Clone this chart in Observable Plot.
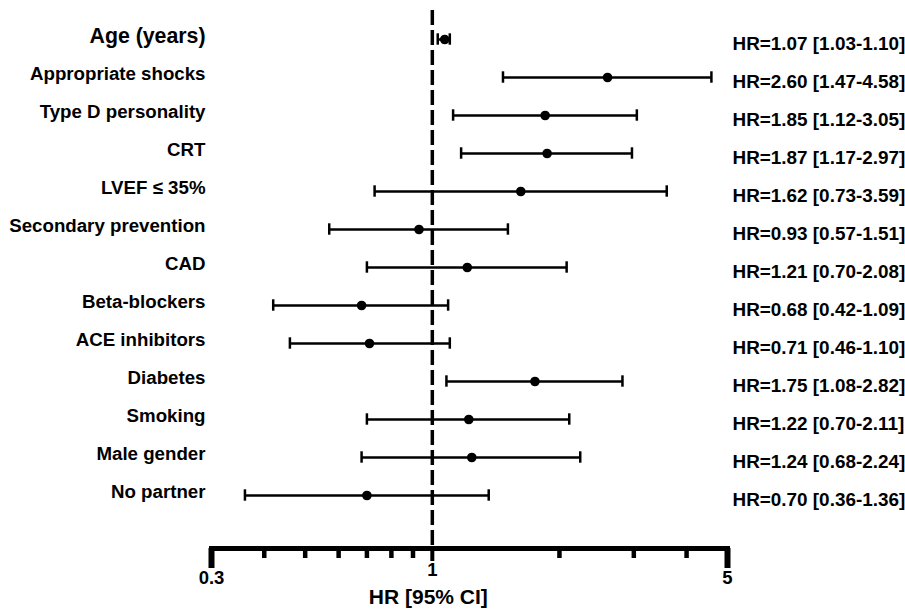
<!DOCTYPE html>
<html>
<head>
<meta charset="utf-8">
<script src="https://cdn.jsdelivr.net/npm/d3@7"></script>
<script src="https://cdn.jsdelivr.net/npm/@observablehq/plot@0.6"></script>
<style>
  html, body { margin: 0; padding: 0; background: #fff; }
  #chart svg { display: block; }
</style>
</head>
<body>
<div id="chart"></div>
<script>
const labels = ["Age (years)", "Appropriate shocks", "Type D personality", "CRT", "LVEF \u2264 35%", "Secondary prevention", "CAD", "Beta-blockers", "ACE inhibitors", "Diabetes", "Smoking", "Male gender", "No partner"];
const hr = [1.07, 2.60, 1.85, 1.87, 1.62, 0.93, 1.21, 0.68, 0.71, 1.75, 1.22, 1.24, 0.70];
const lo = [1.03, 1.47, 1.12, 1.17, 0.73, 0.57, 0.70, 0.42, 0.46, 1.08, 0.70, 0.68, 0.36];
const hi = [1.10, 4.58, 3.05, 2.97, 3.59, 1.51, 2.08, 1.09, 1.10, 2.82, 2.11, 2.24, 1.36];
const endTicks = [0.3, 5];
const midTicks = [1];
const minorTicks = [0.4, 0.5, 0.6, 0.7, 0.8, 0.9, 2, 3, 4];
const axisTitle = "HR [95% CI]";

const rows = labels.map((label, i) => ({
  label, hr: hr[i], lo: lo[i], hi: hi[i],
  text: `HR=${hr[i].toFixed(2)} [${lo[i].toFixed(2)}-${hi[i].toFixed(2)}]`
}));

const font = "'Liberation Sans', Arial, Helvetica, sans-serif";

const chart = Plot.plot({
  width: 905,
  height: 613,
  marginLeft: 211,
  marginRight: 178,
  marginTop: 10,
  marginBottom: 65,
  style: { fontFamily: font, fontWeight: "bold", color: "#000", background: "#fff", overflow: "visible" },
  x: { type: "log", domain: [0.3, 5] },
  y: { type: "band", domain: labels, range: [15.67, 518.33], padding: 0, axis: null },
  marks: [
    Plot.ruleX([1], { stroke: "#000", strokeWidth: 3.5, strokeDasharray: "15,5" }),
    Plot.frame({ anchor: "bottom", stroke: "#000", strokeWidth: 5 }),
    Plot.axisX({ ticks: minorTicks, tickSize: 10, strokeWidth: 4.5, tickFormat: () => "", label: null }),
    Plot.axisX({ ticks: midTicks, tickSize: 13, strokeWidth: 4, tickFormat: () => "", label: null }),
    Plot.axisX({ ticks: endTicks, tickSize: 20, strokeWidth: 6, tickFormat: () => "", label: null }),
    Plot.text(endTicks, { x: d => d, text: d => String(d), frameAnchor: "bottom", dy: 35, fontSize: 18.5, fontWeight: "bold", fill: "#000" }),
    Plot.text(midTicks, { x: d => d, text: d => String(d), frameAnchor: "bottom", dy: 27, fontSize: 18.5, fontWeight: "bold", fill: "#000" }),
    Plot.text([{ x: 1 }], { x: "x", text: () => axisTitle, frameAnchor: "bottom", dy: 55, dx: -4, fontSize: 21, fontWeight: "bold", fill: "#000" }),
    Plot.ruleY(rows, { y: "label", x1: "lo", x2: "hi", stroke: "#000", strokeWidth: 2.5 }),
    Plot.tickX(rows, { y: "label", x: "lo", stroke: "#000", strokeWidth: 2.5, insetTop: 13.3, insetBottom: 13.3 }),
    Plot.tickX(rows, { y: "label", x: "hi", stroke: "#000", strokeWidth: 2.5, insetTop: 13.3, insetBottom: 13.3 }),
    Plot.dot(rows, { y: "label", x: "hr", r: 4.8, fill: "#000", stroke: "none" }),
    Plot.text(rows, { y: "label", text: "label", frameAnchor: "left", textAnchor: "end", dx: -6, dy: -3, fontSize: d => d.label === "Age (years)" ? 21.3 : 18.7, fontWeight: "bold", fill: "#000" }),
    Plot.text(rows, { y: "label", text: "text", frameAnchor: "right", textAnchor: "start", dx: 5, dy: 4.5, fontSize: 18.9, fontWeight: "bold", fill: "#000" })
  ]
});

document.getElementById("chart").appendChild(chart);
</script>
</body>
</html>
